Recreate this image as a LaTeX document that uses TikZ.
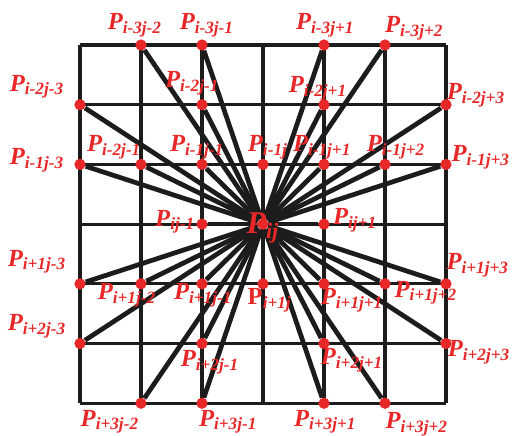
\documentclass[tikz,border=0pt]{standalone}
\usepackage{fontspec}
\setmainfont{Liberation Serif}
\usetikzlibrary{backgrounds}
\definecolor{ptred}{RGB}{232,40,40}
\definecolor{ink}{RGB}{28,28,28}
\newcommand{\lab}[1]{{\bfseries\itshape P\textsubscript{#1}}}

\begin{document}
\begin{tikzpicture}[x=1.22cm,y=-1.194cm,
  pt/.style={circle,fill=ptred,inner sep=0pt,minimum size=6.4pt},
  lbl/.style={text=ptred,inner sep=0pt,font=\fontsize{14}{16}\selectfont},
  gridline/.style={draw=ink,line width=1.8pt},
  spoke/.style={draw=ink,line width=2.7pt}]
\useasboundingbox (-1.311,-0.754) rectangle (7.082,6.533);
% points of the stencil
\node[pt] at(1,0)(u3l2){};
\node[pt] at(2,0)(u3l1){};
\node[pt] at(4,0)(u3r1){};
\node[pt] at(5,0)(u3r2){};
\node[pt] at(0,1)(u2l3){};
\node[pt] at(2,1)(u2l1){};
\node[pt] at(4,1)(u2r1){};
\node[pt] at(6,1)(u2r3){};
\node[pt] at(0,2)(u1l3){};
\node[pt] at(1,2)(u1l2){};
\node[pt] at(2,2)(u1l1){};
\node[pt] at(3,2)(u1){};
\node[pt] at(4,2)(u1r1){};
\node[pt] at(5,2)(u1r2){};
\node[pt] at(6,2)(u1r3){};
\node[pt] at(2,3)(l1){};
\node[pt] at(3,3)(c){};
\node[pt] at(4,3)(r1){};
\node[pt] at(0,4)(d1l3){};
\node[pt] at(1,4)(d1l2){};
\node[pt] at(2,4)(d1l1){};
\node[pt] at(3,4)(d1){};
\node[pt] at(4,4)(d1r1){};
\node[pt] at(5,4)(d1r2){};
\node[pt] at(6,4)(d1r3){};
\node[pt] at(0,5)(d2l3){};
\node[pt] at(2,5)(d2l1){};
\node[pt] at(4,5)(d2r1){};
\node[pt] at(6,5)(d2r3){};
\node[pt] at(1,6)(d3l2){};
\node[pt] at(2,6)(d3l1){};
\node[pt] at(4,6)(d3r1){};
\node[pt] at(5,6)(d3r2){};
\begin{pgfonlayer}{background}
\foreach \k in {0,...,6}{
  \draw[gridline] (\k,0) -- (\k,6);
  \draw[gridline] (0,\k) -- (6,\k);
}
\path[spoke](c)edge(u3l2)edge(u3l1)edge(u3r1)edge(u3r2)
     edge(u2l3)edge(u2l1)edge(u2r1)edge(u2r3)
     edge(u1l3)edge(u1l2)edge(u1l1)edge(u1)edge(u1r1)edge(u1r2)edge(u1r3)
     edge(l1)edge(r1)
     edge(d1l3)edge(d1l2)edge(d1l1)edge(d1)edge(d1r1)edge(d1r2)edge(d1r3)
     edge(d2l3)edge(d2l1)edge(d2r1)edge(d2r3)
     edge(d3l2)edge(d3l1)edge(d3r1)edge(d3r2);
\end{pgfonlayer}
% labels
\node[lbl] at(0.90,-0.335)(tu3l2){\lab{i-3j-2}};
\node[lbl] at(2.08,-0.335)(tu3l1){\lab{i-3j-1}};
\node[lbl] at(4.02,-0.335)(tu3r1){\lab{i-3j+1}};
\node[lbl] at(5.48,-0.285)(tu3r2){\lab{i-3j+2}};
\node[lbl] at(-0.705,0.70)(tu2l3){\lab{i-2j-3}};
\node[lbl] at(1.84,0.64)(tu2l1){\lab{i-2j-1}};
\node[lbl] at(3.90,0.72)(tu2r1){\lab{i-2j+1}};
\node[lbl] at(6.49,0.84)(tu2r3){\lab{i-2j+3}};
\node[lbl] at(-0.705,1.93)(tu1l3){\lab{i-1j-3}};
\node[lbl] at(0.56,1.71)(tu1l2){\lab{i-2j-1}};
\node[lbl] at(1.92,1.71)(tu1l1){\lab{i-1j-1}};
\node[lbl] at(3.08,1.71)(tu1){\lab{i-1j}};
\node[lbl] at(3.97,1.71)(tu1r1){\lab{i-1j+1}};
\node[lbl] at(5.18,1.71)(tu1r2){\lab{i-1j+2}};
\node[lbl] at(6.57,1.88)(tu1r3){\lab{i-1j+3}};
\node[lbl] at(1.56,2.96)(tl1){\lab{ij-1}};
\node[lbl,font=\fontsize{18}{20}\selectfont] at(3.0,3.07)(tc){\lab{ij}};
\node[lbl] at(4.51,2.93)(tr1){\lab{ij+1}};
\node[lbl] at(-0.705,3.63)(td1l3){\lab{i+1j-3}};
\node[lbl] at(0.77,4.19)(td1l2){\lab{i+1j-2}};
\node[lbl] at(2.02,4.19)(td1l1){\lab{i+1j-1}};
\node[lbl] at(3.11,4.27)(td1){{\bfseries P\textsubscript{\itshape i+1j}}};
\node[lbl] at(4.46,4.27)(td1r1){\lab{i+1j+1}};
\node[lbl] at(5.67,4.15)(td1r2){\lab{i+1j+2}};
\node[lbl] at(6.52,3.69)(td1r3){\lab{i+1j+3}};
\node[lbl] at(-0.705,4.71)(td2l3){\lab{i+2j-3}};
\node[lbl] at(2.13,5.31)(td2l1){\lab{i+2j-1}};
\node[lbl] at(4.46,5.28)(td2r1){\lab{i+2j+1}};
\node[lbl] at(6.54,5.14)(td2r3){\lab{i+2j+3}};
\node[lbl] at(0.49,6.31)(td3l2){\lab{i+3j-2}};
\node[lbl] at(2.43,6.31)(td3l1){\lab{i+3j-1}};
\node[lbl] at(4.02,6.31)(td3r1){\lab{i+3j+1}};
\node[lbl] at(5.52,6.35)(td3r2){\lab{i+3j+2}};
\end{tikzpicture}
\end{document}
